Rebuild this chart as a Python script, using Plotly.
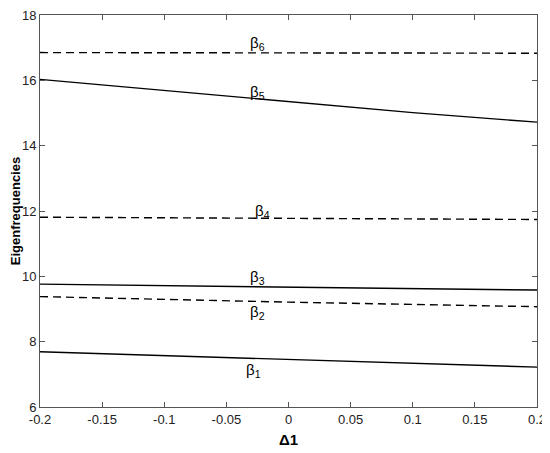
import plotly.graph_objects as go

delta1 = [-0.2, -0.1, 0.0, 0.1, 0.2]
beta1 = [7.69, 7.57, 7.45, 7.34, 7.22]
beta2 = [9.38, 9.29, 9.21, 9.14, 9.07]
beta3 = [9.76, 9.71, 9.67, 9.62, 9.58]
beta4 = [11.81, 11.79, 11.77, 11.76, 11.74]
beta5 = [16.03, 15.69, 15.35, 15.01, 14.72]
beta6 = [16.85, 16.85, 16.84, 16.84, 16.83]

series = [
    (beta1, "solid"), (beta2, "dash"), (beta3, "solid"),
    (beta4, "dash"), (beta5, "solid"), (beta6, "dash"),
]

labels = ["β<sub>1</sub>", "β<sub>2</sub>", "β<sub>3</sub>",
          "β<sub>4</sub>", "β<sub>5</sub>", "β<sub>6</sub>"]
label_x = [-0.028, -0.025, -0.025, -0.021, -0.025, -0.025]
label_y = [7.13, 8.88, 9.95, 12.0, 15.64, 17.14]

xticks = [-0.2, -0.15, -0.1, -0.05, 0, 0.05, 0.1, 0.15, 0.2]
xticklabels = ["-0.2", "-0.15", "-0.1", "-0.05", "0", "0.05", "0.1", "0.15", "0.2"]
yticks = [6, 8, 10, 12, 14, 16, 18]

fig = go.Figure()
for ys, dash in series:
    fig.add_trace(go.Scatter(
        x=delta1, y=ys, mode="lines",
        line=dict(color="black", width=1.4, dash="8px,5px" if dash == "dash" else "solid"),
        showlegend=False, hoverinfo="skip",
    ))

for t, lx, ly in zip(labels, label_x, label_y):
    fig.add_annotation(x=lx, y=ly, text=t, showarrow=False,
                       font=dict(family="Liberation Sans", size=15, color="black"),
                       xanchor="center", yanchor="middle")

axis_common = dict(showline=True, linecolor="#555555", linewidth=1, mirror="ticks",
                   ticks="inside", ticklen=5, tickcolor="#555555", showgrid=False,
                   zeroline=False, automargin=False, ticklabeloverflow="allow",
                   tickfont=dict(family="Liberation Sans", size=13, color="#222222"))

fig.update_xaxes(range=[-0.2, 0.2], tickvals=xticks, ticktext=xticklabels,
                 title=dict(text="<b>Δ1</b>", font=dict(family="Liberation Sans", size=15, color="black"),
                            standoff=8),
                 **axis_common)
fig.update_yaxes(range=[6, 18], tickvals=yticks,
                 title=dict(text="<b>Eigenfrequencies</b>", font=dict(family="Liberation Sans", size=13, color="black"),
                            standoff=2),
                 **axis_common)

fig.update_layout(width=542, height=445, plot_bgcolor="white", paper_bgcolor="white",
                  margin=dict(l=32, r=13, t=7, b=46))

fig.write_html("out.html")
